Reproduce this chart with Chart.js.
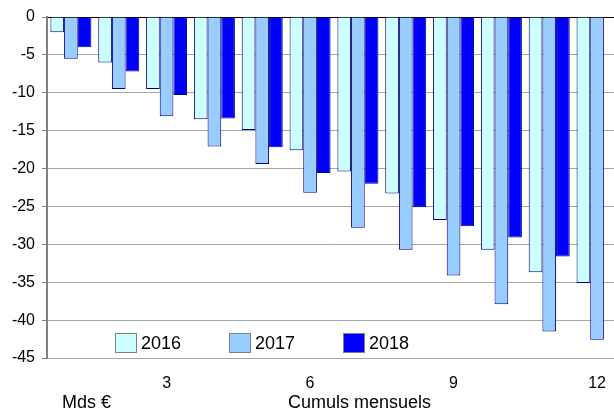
<!DOCTYPE html>
<html>
<head>
<meta charset="utf-8">
<script src="https://cdn.jsdelivr.net/npm/chart.js@4/dist/chart.umd.min.js"></script>
<style>
  html, body { margin: 0; padding: 0; background: #fff; overflow: hidden; }
  #wrap { position: absolute; left: 0; top: 0; width: 622px; height: 410px; }
</style>
</head>
<body>
<div id="wrap"><canvas id="c"></canvas></div>
<script>
const months = ['1','2','3','4','5','6','7','8','9','10','11','12'];
const shownTicks = ['3','6','9','12'];
const series2016 = [-2.0, -6.0, -9.5, -13.5, -14.9, -17.6, -20.4, -23.3, -26.8, -30.7, -33.7, -35.1];
const series2017 = [-5.5, -9.5, -13.1, -17.1, -19.4, -23.2, -27.8, -30.7, -34.1, -37.9, -41.5, -42.6];
const series2018 = [-4.0, -7.2, -10.3, -13.4, -17.2, -20.6, -22.0, -25.1, -27.6, -29.1, -31.6, null];
const seriesNames = ['2016', '2017', '2018'];
const unitLabel = 'Mds €';
const axisTitle = 'Cumuls mensuels';

const FONT = "'Liberation Sans', Arial, sans-serif";

const overlay = {
  id: 'overlay',
  afterDraw(chart) {
    const ctx = chart.ctx;
    const ca = chart.chartArea;
    ctx.save();
    // custom legend inside plot area
    chart.data.datasets.forEach((ds, i) => {
      const bx = ca.left + 68 + i * 114;
      const by = ca.bottom - 25;
      ctx.fillStyle = ds.backgroundColor;
      ctx.fillRect(bx, by, 22, 20);
      ctx.strokeStyle = '#808080';
      ctx.lineWidth = 1;
      ctx.strokeRect(bx + 0.5, by + 0.5, 21, 19);
      ctx.fillStyle = '#000';
      ctx.font = '18px ' + FONT;
      ctx.textBaseline = 'middle';
      ctx.textAlign = 'left';
      ctx.fillText(ds.label, bx + 26, by + 11);
    });
    // unit and axis title
    ctx.font = '18px ' + FONT;
    ctx.textBaseline = 'alphabetic';
    ctx.textAlign = 'left';
    ctx.fillText(unitLabel, ca.left + 15, 408);
    ctx.fillText(axisTitle, ca.left + 241, 408);
    ctx.restore();
  }
};

new Chart(document.getElementById('c'), {
  type: 'bar',
  data: {
    labels: months,
    datasets: [
      { label: seriesNames[0], data: series2016, backgroundColor: '#CCFFFF', borderColor: '#000080', borderWidth: 1 },
      { label: seriesNames[1], data: series2017, backgroundColor: '#99CCFF', borderColor: '#000080', borderWidth: 1 },
      { label: seriesNames[2], data: series2018, backgroundColor: '#0000FF', borderColor: '#000080', borderWidth: 1 }
    ]
  },
  options: {
    responsive: true,
    maintainAspectRatio: false,
    animation: false,
    devicePixelRatio: 1,
    layout: { padding: { top: 17, right: 1, left: 0, bottom: 0 } },
    datasets: { bar: { categoryPercentage: 0.857, barPercentage: 1.0 } },
    plugins: { legend: { display: false }, tooltip: { enabled: false } },
    scales: {
      x: {
        grid: { display: false, drawTicks: false },
        border: { display: false },
        ticks: {
          autoSkip: false,
          maxRotation: 0,
          padding: 16,
          color: '#000',
          font: { family: FONT, size: 16 },
          callback: function (v) {
            const l = this.getLabelForValue(v);
            return shownTicks.includes(l) ? l : '';
          }
        },
        afterFit(scale) { scale.height = 52; }
      },
      y: {
        min: -45,
        max: 0,
        ticks: { stepSize: 5, color: '#000', padding: 7, font: { family: FONT, size: 16 } },
        grid: {
          color: (c) => (c.tick && c.tick.value === 0 ? '#000000' : '#a6a6a6'),
          tickColor: '#808080',
          tickLength: 5,
          lineWidth: 1
        },
        border: { display: true, color: '#808080', width: 2 },
        afterFit(scale) { scale.width = 47; }
      }
    }
  },
  plugins: [overlay]
});
</script>
</body>
</html>
